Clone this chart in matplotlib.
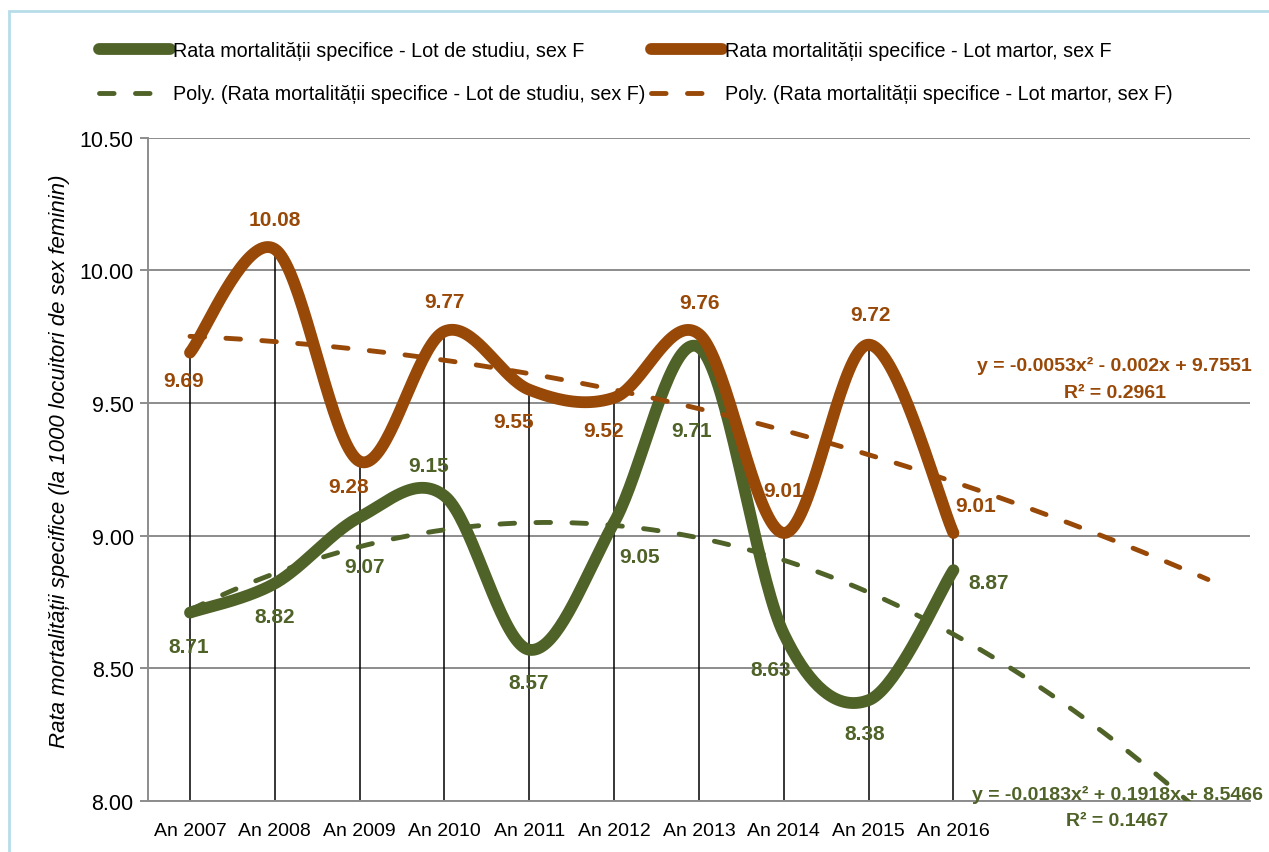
import numpy as np
import matplotlib
matplotlib.use("Agg")
import matplotlib.pyplot as plt
from matplotlib.patches import Rectangle
from matplotlib.lines import Line2D

# data
years = ['An 2007', 'An 2008', 'An 2009', 'An 2010', 'An 2011',
         'An 2012', 'An 2013', 'An 2014', 'An 2015', 'An 2016']
studiu = [8.71, 8.82, 9.07, 9.15, 8.57, 9.05, 9.71, 8.63, 8.38, 8.87]
martor = [9.69, 10.08, 9.28, 9.77, 9.55, 9.52, 9.76, 9.01, 9.72, 9.01]
forecast = 3

lbl_studiu = 'Rata mortalității specifice - Lot de studiu, sex F'
lbl_martor = 'Rata mortalității specifice - Lot martor, sex F'
eq_studiu = ['y = -0.0183x² + 0.1918x + 8.5466', 'R² = 0.1467']
eq_martor = ['y = -0.0053x² - 0.002x + 9.7551', 'R² = 0.2961']

# label offsets (category units, value units)
off_studiu = [(-0.01, -0.126), (0.0, -0.126), (0.06, -0.188), (-0.19, 0.116), (-0.01, -0.125),
              (0.30, -0.13), (-0.09, -0.315), (-0.15, -0.136), (-0.05, -0.124), (0.42, -0.045)]
off_martor = [(-0.07, -0.107), (0.0, 0.11), (-0.125, -0.093), (0.0, 0.114), (-0.19, -0.118),
              (-0.13, -0.122), (0.01, 0.117), (0.0, 0.162), (0.02, 0.115), (0.26, 0.105)]

green = '#4F6228'
brown = '#984807'
grid_c = '#8c8c8c'

plt.rcParams['font.family'] = ['Liberation Sans', 'DejaVu Sans']


def smooth(xs, ys, n=40):
    # excel-like smoothed line (catmull-rom as bezier)
    p = np.column_stack([xs, ys]).astype(float)
    p = np.vstack([p[0], p, p[-1]])
    out = []
    t = np.linspace(0, 1, n)[:, None]
    for i in range(1, len(p) - 2):
        a = p[i]
        b = p[i + 1]
        c1 = a + (p[i + 1] - p[i - 1]) / 6
        c2 = b - (p[i + 2] - p[i]) / 6
        seg = (1 - t) ** 3 * a + 3 * (1 - t) ** 2 * t * c1 + 3 * (1 - t) * t ** 2 * c2 + t ** 3 * b
        out.append(seg if i == 1 else seg[1:])
    out = np.vstack(out)
    return out[:, 0], out[:, 1]


fig = plt.figure(figsize=(12.69, 8.53), dpi=100)
ax = fig.add_axes([0.1163, 0.0598, 0.8690, 0.7776])

x = np.arange(len(years))

ax.vlines(x, 8.0, np.maximum(studiu, martor), colors='black', lw=1.1, zorder=2)

sx, sy = smooth(x, studiu)
ax.plot(sx, sy, color=green, lw=8.5, solid_capstyle='round', zorder=3)
mx, my = smooth(x, martor)
ax.plot(mx, my, color=brown, lw=8.5, solid_capstyle='round', zorder=3)

xt = np.linspace(0, len(years) - 1 + forecast, 300)
for vals, col in [(studiu, green), (martor, brown)]:
    c = np.polyfit(x + 1, vals, 2)
    ax.plot(xt, np.polyval(c, xt + 1), color=col, lw=3.5, ls=(0, (3, 4.4)),
            dash_capstyle='round', zorder=4)

for i in range(len(years)):
    ax.text(x[i] + off_studiu[i][0], studiu[i] + off_studiu[i][1], '%.2f' % studiu[i],
            color=green, fontsize=15, fontweight='bold',
            ha='center', va='center', zorder=5)
    ax.text(x[i] + off_martor[i][0], martor[i] + off_martor[i][1], '%.2f' % martor[i],
            color=brown, fontsize=15, fontweight='bold',
            ha='center', va='center', zorder=5)

# trendline equations
for lines, col, ex, ey in [(eq_martor, brown, 10.90, (9.643, 9.541)),
                           (eq_studiu, green, 10.93, (8.026, 7.928))]:
    for s, yy in zip(lines, ey):
        ax.text(ex, yy, s, color=col, fontsize=14, fontweight='bold',
                ha='center', va='center', zorder=5, clip_on=False)

ax.set_xlim(-0.5, 12.5)
ax.set_ylim(8.0, 10.5)
ax.set_xticks(x, years)
ax.set_yticks(np.arange(8.0, 10.51, 0.5))
ax.set_yticklabels(['%.2f' % v for v in np.arange(8.0, 10.51, 0.5)])
ax.tick_params(axis='y', length=6, width=1.4, color=grid_c, labelsize=15.5, pad=4)
ax.tick_params(axis='x', length=0, labelsize=14, pad=15)

ax.yaxis.grid(True, color=grid_c, lw=1.4)
ax.set_axisbelow(True)
for s in ['top', 'right']:
    ax.spines[s].set_visible(False)
for s in ['left', 'bottom']:
    ax.spines[s].set_color(grid_c)
    ax.spines[s].set_linewidth(1.4)

ax.set_ylabel('Rata mortalității specifice (la 1000 locuitori de sex feminin)',
              fontsize=16, style='italic')
ax.yaxis.set_label_coords(-0.0704, 0.514)

handles = [
    Line2D([], [], color=green, lw=8.5, solid_capstyle='round'),
    Line2D([], [], color=green, lw=3.5, ls=(0, (3, 4.4)), dash_capstyle='round'),
    Line2D([], [], color=brown, lw=8.5, solid_capstyle='round'),
    Line2D([], [], color=brown, lw=3.5, ls=(0, (3, 4.4)), dash_capstyle='round'),
]
labels = [lbl_studiu, 'Poly. (' + lbl_studiu + ')', lbl_martor, 'Poly. (' + lbl_martor + ')']
fig.legend(handles, labels, ncol=2, loc='upper left', bbox_to_anchor=(0.078, 0.951),
           frameon=False, prop={'size': 14.2}, handlelength=3.6,
           handletextpad=0.15, columnspacing=0.3, labelspacing=1.25,
           borderaxespad=0, borderpad=0)

fig.patches.append(Rectangle((9 / 1269, -0.1), 1.2, 0.1 + 1 - 12 / 853, transform=fig.transFigure,
                             fill=False, edgecolor='#b7dde8', lw=2))

fig.savefig('out.png', dpi=100)
